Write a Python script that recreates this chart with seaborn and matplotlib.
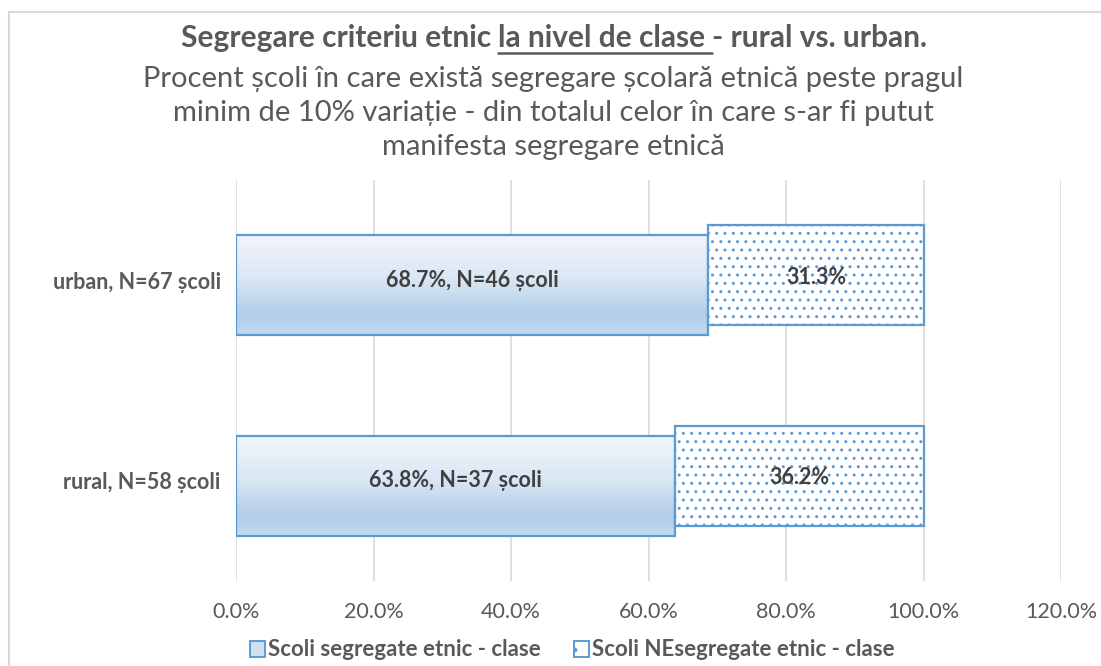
import numpy as np
import pandas as pd
import matplotlib
matplotlib.use("Agg")
import matplotlib.pyplot as plt
import seaborn as sns
from matplotlib.colors import LinearSegmentedColormap
from matplotlib.patches import Patch
from matplotlib.lines import Line2D

# ---------------- data ----------------
categories = ["urban, N=67 școli", "rural, N=58 școli"]
segregated = [68.7, 63.8]
nonsegregated = [31.3, 36.2]
seg_labels = ["68.7%, N=46 școli", "63.8%, N=37 școli"]
nonseg_labels = ["31.3%", "36.2%"]
series_names = ["Scoli segregate etnic - clase", "Scoli NEsegregate etnic - clase"]
title_parts = ["Segregare criteriu etnic ", "la nivel de clase ", "- rural vs. urban."]
subtitle_lines = [
    "Procent școli în care există segregare școlară etnică peste pragul",
    "minim de 10% variație - din totalul celor în care s-ar fi putut",
    "manifesta segregare etnică",
]
x_ticks = [0, 20, 40, 60, 80, 100, 120]

# ---------------- style ----------------
BLUE = "#5b9bd5"
GRID = "#d9d9d9"
TXT = "#595959"
DARK = "#404040"
W, H = 1101, 666

sns.set_theme(style="white")
plt.rcParams["font.family"] = ["Lato", "DejaVu Sans"]
plt.rcParams["hatch.linewidth"] = 1.0

fig = plt.figure(figsize=(W / 100, H / 100), dpi=100)
ax = fig.add_axes([236 / W, 1 - 581 / H, 825 / W, 401 / H])

df = pd.DataFrame({"cat": categories, "seg": segregated, "non": nonsegregated})

sns.barplot(data=df, x="seg", y="cat", orient="h", width=0.5, color="#d6e4f3",
            saturation=1, edgecolor=BLUE, linewidth=1.6, ax=ax, zorder=3)
sns.barplot(data=df, x="non", y="cat", orient="h", width=0.5, color="white",
            saturation=1, edgecolor=BLUE, linewidth=1.6, hatch="..",
            left=df["seg"].to_numpy(), ax=ax, zorder=3)

seg_patches = list(ax.containers[0])
non_patches = list(ax.containers[1])
for p in seg_patches:
    p.set_y(p.get_y() + 0.025)
for p in non_patches:
    p.set_y(p.get_y() - 0.025)

# gradient fill for the first series
cmap = LinearSegmentedColormap.from_list(
    "grad", [(0, "#f3f6fb"), (0.45, "#d9e6f4"), (0.8, "#b1cde9"), (1, "#c4d9ee")])
grad = np.linspace(0, 1, 256).reshape(-1, 1)
for p in seg_patches:
    x0, y0, w, h = p.get_x(), p.get_y(), p.get_width(), p.get_height()
    im = ax.imshow(grad, cmap=cmap, extent=[x0, x0 + w, y0 + h, y0], origin="upper",
                   aspect="auto", zorder=2.9, interpolation="bilinear")
    im.set_clip_path(p)
    p.set_facecolor("none")

ax.set_xlim(0, 120)
ax.set_ylim(len(categories) - 0.5, -0.5)

# axes styling
ax.set_xticks(x_ticks)
ax.set_xticklabels([f"{v:.1f}%" for v in x_ticks], color=TXT, fontsize=15.5)
ax.set_yticks(range(len(categories)))
ax.set_yticklabels(categories, color=TXT, fontsize=15.5, fontweight="bold")
ax.tick_params(axis="x", length=0, pad=15)
ax.tick_params(axis="y", length=0, pad=11)
ax.xaxis.grid(True, color=GRID, linewidth=1.2)
ax.yaxis.grid(False)
ax.set_axisbelow(True)
for s in ax.spines.values():
    s.set_visible(False)
ax.set_xlabel("")
ax.set_ylabel("")

# bar labels
for i, (s, lab) in enumerate(zip(segregated, seg_labels)):
    ax.text(s / 2, i, lab, ha="center", va="center", fontsize=15.5,
            fontweight="bold", color=DARK, zorder=5)
for i, (s, n, lab) in enumerate(zip(segregated, nonsegregated, nonseg_labels)):
    ax.text(s + n / 2, i - 0.015, lab, ha="center", va="center", fontsize=15.5,
            fontweight="bold", color=DARK, zorder=5)

# title with underlined segment
renderer = fig.canvas.get_renderer()
tsize = 21.5
texts = [fig.text(0, 0, part, fontsize=tsize, fontweight="bold", color=TXT,
                  ha="left", va="baseline") for part in title_parts]
widths = [t.get_window_extent(renderer).width for t in texts]
total = sum(widths)
x = 554 - total / 2
base_y = 1 - 47 / H
starts = []
for t, w in zip(texts, widths):
    t.set_position((x / W, base_y))
    starts.append(x)
    x += w
ul_y = 1 - 53 / H
fig.add_artist(Line2D([starts[1] / W, (starts[1] + widths[1]) / W], [ul_y, ul_y],
                      transform=fig.transFigure, color=TXT, linewidth=1.8))

for k, line in enumerate(subtitle_lines):
    fig.text(553 / W, 1 - (79 + 34 * k) / H, line, fontsize=21, color=TXT,
             ha="center", va="center")

# legend
handles = [
    Patch(facecolor="#cfe0f1", edgecolor=BLUE, linewidth=1.4),
    Patch(facecolor="white", edgecolor=BLUE, linewidth=1.4, hatch="."),
]
fig.legend(handles, series_names, loc="center", bbox_to_anchor=(572 / W, 1 - 650 / H),
           ncol=2, frameon=False, prop={"size": 16, "weight": "bold"},
           labelcolor=TXT, handlelength=0.7, handleheight=0.7,
           handletextpad=0.1, columnspacing=1.5)

# chart border (top and left visible)
fig.add_artist(Line2D([9 / W, 1], [1 - 12 / H, 1 - 12 / H], transform=fig.transFigure,
                      color=GRID, linewidth=1.5))
fig.add_artist(Line2D([9 / W, 9 / W], [0, 1 - 12 / H], transform=fig.transFigure,
                      color=GRID, linewidth=1.5))

fig.savefig("out.png", dpi=100)
